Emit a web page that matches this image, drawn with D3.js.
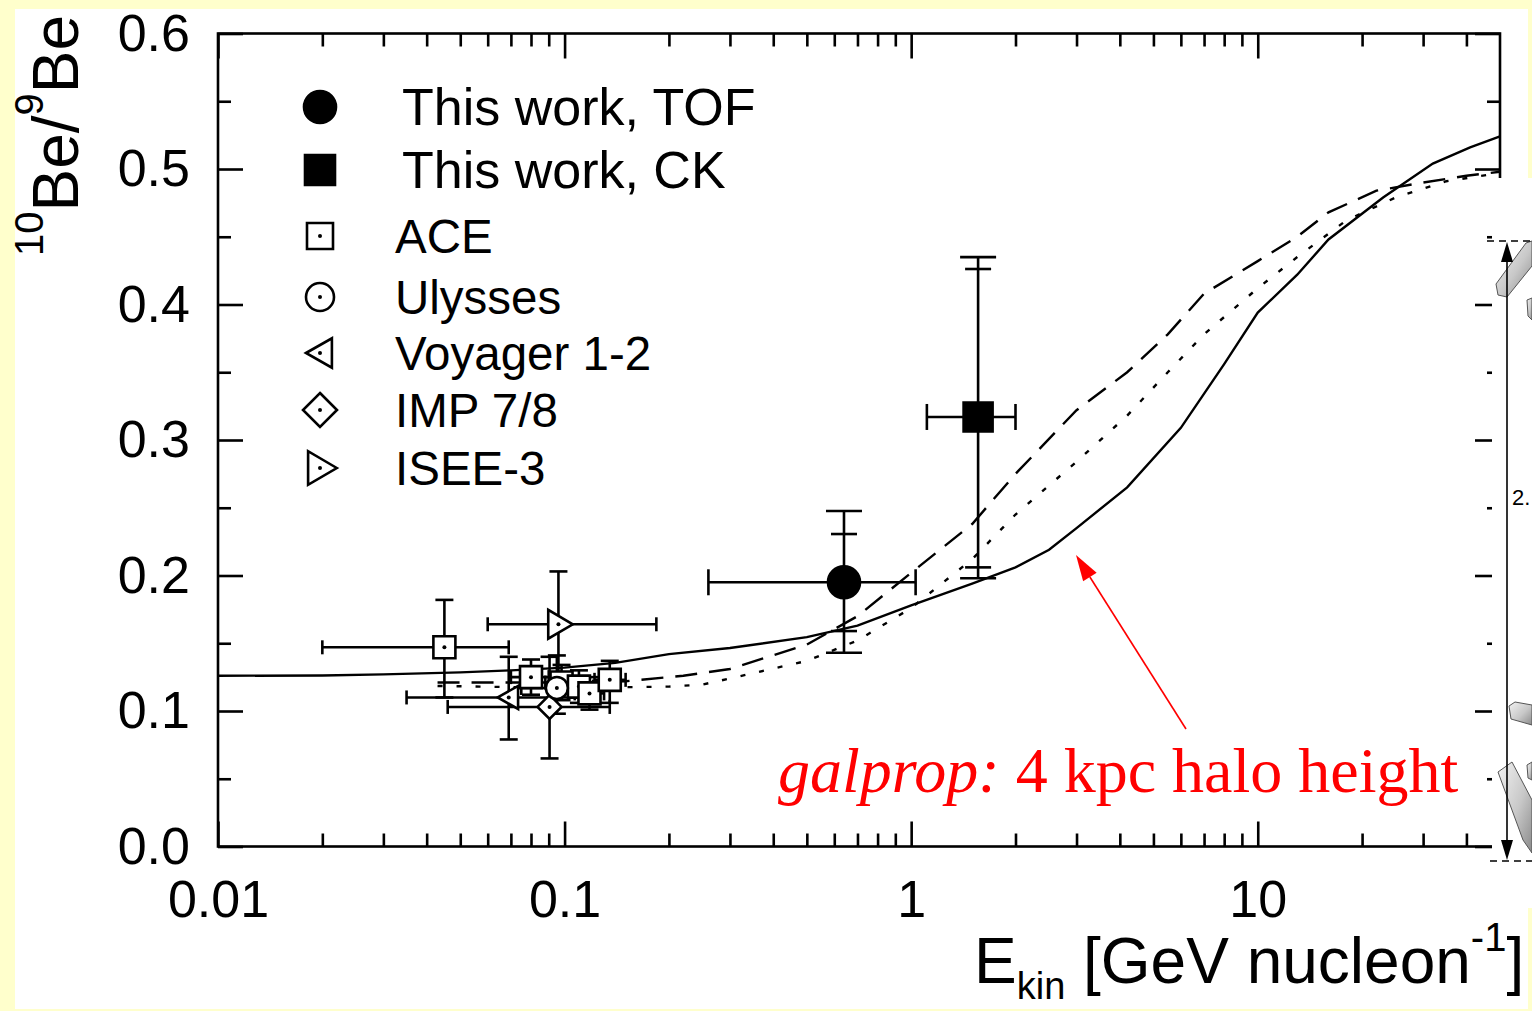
<!DOCTYPE html>
<html>
<head>
<meta charset="utf-8">
<script src="https://cdn.jsdelivr.net/npm/d3@7"></script>
<style>
  html, body { margin: 0; padding: 0; background: #ffffcc; }
  svg { display: block; }
</style>
</head>
<body>
<svg id="chart" width="1532" height="1011"></svg>
<script>
// ---------- axis ticks ----------
const xMajorTicks = [0.01, 0.1, 1, 10];
const xMajorLabels = ["0.01", "0.1", "1", "10"];
const xMinorTicks = [0.02, 0.03, 0.04, 0.05, 0.06, 0.07, 0.08, 0.09,
                     0.2, 0.3, 0.4, 0.5, 0.6, 0.7, 0.8, 0.9,
                     2, 3, 4, 5, 6, 7, 8, 9, 20, 30, 40];
const yMajorTicks = [0, 0.1, 0.2, 0.3, 0.4, 0.5, 0.6];
const yMinorTicks = [0.05, 0.15, 0.25, 0.35, 0.45, 0.55];

// ---------- galprop model curves [E, ratio] ----------
const modelSolid = [[0.01,0.126],[0.02,0.1262],[0.03,0.127],[0.05,0.1285],[0.07,0.130],
  [0.1,0.132],[0.14,0.1355],[0.2,0.142],[0.3,0.1465],[0.5,0.1545],[0.7,0.163],[1.0,0.178],
  [1.5,0.194],[2.0,0.206],[2.5,0.219],[3.0,0.235],[4.2,0.265],[6,0.309],[8,0.356],[10,0.394],
  [13,0.422],[16,0.448],[23,0.479],[32,0.504],[41,0.516],[50,0.524]];
const modelDashed = [[0.043,0.121],[0.1,0.121],[0.15,0.122],[0.22,0.126],[0.3,0.131],
  [0.5,0.149],[0.7,0.170],[1.0,0.202],[1.5,0.238],[2.0,0.275],[3.0,0.322],[4.2,0.350],
  [5.5,0.378],[7,0.408],[10,0.432],[13,0.45],[16,0.468],[22,0.484],[30,0.490],[40,0.495],[50,0.498]];
const modelDotted = [[0.043,0.1185],[0.1,0.117],[0.2,0.118],[0.25,0.1195],[0.3,0.124],
  [0.5,0.137],[0.7,0.152],[1.0,0.176],[1.5,0.212],[2.0,0.245],[3.0,0.284],[4.2,0.318],
  [5.5,0.35],[7,0.378],[10,0.412],[13,0.435],[18,0.462],[25,0.479],[35,0.491],[50,0.497]];

// ---------- measurements ----------
// this work: two vertical error ranges (inner / outer)
const tofData = [{E:0.64, R:0.195, Elo:0.26, Ehi:1.03, Rlo:0.159, Rhi:0.2306, Rlo2:0.143, Rhi2:0.2476}];
const ckData  = [{E:1.56, R:0.317, Elo:1.11, Ehi:2.0, Rlo:0.206, Rhi:0.4262, Rlo2:0.198, Rhi2:0.435}];
const aceData = [
  {E:0.045, R:0.147, Elo:0.020, Ehi:0.069, Rlo:0.110, Rhi:0.182},
  {E:0.080, R:0.125, Elo:0.070, Ehi:0.090, Rlo:0.112, Rhi:0.138},
  {E:0.098, R:0.121, Elo:0.088, Ehi:0.108, Rlo:0.108, Rhi:0.134},
  {E:0.110, R:0.118, Elo:0.100, Ehi:0.121, Rlo:0.106, Rhi:0.130},
  {E:0.118, R:0.113, Elo:0.107, Ehi:0.130, Rlo:0.101, Rhi:0.125},
  {E:0.135, R:0.123, Elo:0.122, Ehi:0.150, Rlo:0.106, Rhi:0.137}];
const ulyssesData = [{E:0.095, R:0.117, Elo:0.075, Ehi:0.115, Rlo:0.098, Rhi:0.141}];
const voyagerData = [{E:0.069, R:0.110, Elo:0.035, Ehi:0.12, Rlo:0.079, Rhi:0.14}];
const impData     = [{E:0.0905, R:0.103, Elo:0.046, Ehi:0.135, Rlo:0.065, Rhi:0.14}];
const iseeData    = [{E:0.096, R:0.164, Elo:0.060, Ehi:0.184, Rlo:0.125, Rhi:0.203}];

// ---------- legend ----------
const legendLabels = ["This work, TOF", "This work, CK", "ACE", "Ulysses", "Voyager 1-2", "IMP 7/8", "ISEE-3"];
const legendShapes = ["circleFilled", "squareFilled", "square", "circle", "triLeft", "diamond", "triRight"];

// ---------- setup ----------
const svg = d3.select("#chart");
const W = 1532, H = 1011;
const plot = {left: 218, right: 1500, top: 33.5, bottom: 846.5};

const x = d3.scaleLog().domain([0.01, 50]).range([plot.left, plot.right]);
const y = d3.scaleLinear().domain([0, 0.6]).range([plot.bottom, plot.top]);

svg.append("rect").attr("width", W).attr("height", H).attr("fill", "#ffffcc");
svg.append("rect").attr("x", 15).attr("y", 9).attr("width", 1513).attr("height", 1000).attr("fill", "#ffffff");

const FONT = "'Liberation Sans', Arial, Helvetica, sans-serif";
const SW = 2.6;

// ---------- axes ----------
function styleAxis(g) {
  g.select(".domain").remove();
  g.selectAll(".tick line").attr("stroke", "#000").attr("stroke-width", SW);
  g.selectAll("text").attr("font-family", FONT).attr("font-size", 52).attr("fill", "#000");
}
svg.append("g").attr("transform", `translate(0,${plot.bottom})`)
  .call(d3.axisBottom(x).tickValues(xMajorTicks).tickFormat((d, i) => xMajorLabels[i])
        .tickSizeInner(-25).tickSizeOuter(0).tickPadding(34))
  .call(styleAxis);
svg.append("g").attr("transform", `translate(0,${plot.bottom})`)
  .call(d3.axisBottom(x).tickValues(xMinorTicks).tickFormat("").tickSizeInner(-13).tickSizeOuter(0))
  .call(styleAxis);
svg.append("g").attr("transform", `translate(0,${plot.top})`)
  .call(d3.axisTop(x).tickValues(xMajorTicks).tickFormat("").tickSizeInner(-25).tickSizeOuter(0))
  .call(styleAxis);
svg.append("g").attr("transform", `translate(0,${plot.top})`)
  .call(d3.axisTop(x).tickValues(xMinorTicks).tickFormat("").tickSizeInner(-13).tickSizeOuter(0))
  .call(styleAxis);
svg.append("g").attr("transform", `translate(${plot.left},0)`)
  .call(d3.axisLeft(y).tickValues(yMajorTicks).tickFormat(d3.format(".1f"))
        .tickSizeInner(-25).tickSizeOuter(0).tickPadding(28))
  .call(styleAxis);
svg.append("g").attr("transform", `translate(${plot.left},0)`)
  .call(d3.axisLeft(y).tickValues(yMinorTicks).tickFormat("").tickSizeInner(-13).tickSizeOuter(0))
  .call(styleAxis);
svg.append("g").attr("transform", `translate(${plot.right},0)`)
  .call(d3.axisRight(y).tickValues(yMajorTicks).tickFormat("").tickSizeInner(-25).tickSizeOuter(0))
  .call(styleAxis);
svg.append("g").attr("transform", `translate(${plot.right},0)`)
  .call(d3.axisRight(y).tickValues(yMinorTicks).tickFormat("").tickSizeInner(-13).tickSizeOuter(0))
  .call(styleAxis);

svg.append("rect")
  .attr("x", plot.left).attr("y", plot.top)
  .attr("width", plot.right - plot.left).attr("height", plot.bottom - plot.top)
  .attr("fill", "none").attr("stroke", "#000").attr("stroke-width", SW);

// ---------- axis titles ----------
const yTitle = svg.append("text")
  .attr("transform", "translate(78,256) rotate(-90)")
  .attr("font-family", FONT).attr("font-size", 64).attr("fill", "#000");
yTitle.append("tspan").attr("font-size", 40).attr("dy", -35).text("10");
yTitle.append("tspan").attr("dy", 35).text("Be/");
yTitle.append("tspan").attr("font-size", 40).attr("dy", -35).text("9");
yTitle.append("tspan").attr("dy", 35).text("Be");

const xTitle = svg.append("text")
  .attr("x", 974).attr("y", 983)
  .attr("font-family", FONT).attr("font-size", 64).attr("fill", "#000");
xTitle.append("tspan").text("E");
xTitle.append("tspan").attr("font-size", 38).attr("dy", 16).text("kin");
xTitle.append("tspan").attr("dy", -16).text(" [GeV nucleon");
xTitle.append("tspan").attr("font-size", 40).attr("dy", -32).text("-1");
xTitle.append("tspan").attr("dy", 32).text("]");

// ---------- model curves ----------
const line = d3.line().x(d => x(d[0])).y(d => y(d[1])).curve(d3.curveLinear);
const curves = svg.append("g").attr("fill", "none").attr("stroke", "#000").attr("stroke-width", 2.4);
curves.append("path").datum(modelSolid).attr("d", line);
curves.append("path").datum(modelDashed).attr("d", line).attr("stroke-dasharray", "22 12");
curves.append("path").datum(modelDotted).attr("d", line)
  .attr("stroke-dasharray", "5 14");

// ---------- marker shapes ----------
function shapePath(type, s) {
  // s = half-size
  switch (type) {
    case "circle": case "circleFilled":
      return `M${-s},0A${s},${s} 0 1,0 ${s},0A${s},${s} 0 1,0 ${-s},0Z`;
    case "square": case "squareFilled":
      return `M${-s},${-s}H${s}V${s}H${-s}Z`;
    case "diamond":
      return `M0,${-s}L${s},0L0,${s}L${-s},0Z`;
    case "triLeft":
      return `M${-s},0L${s*0.85},${-s*1.05}L${s*0.85},${s*1.05}Z`;
    case "triRight":
      return `M${s*1.2},0L${-s*0.85},${-s*1.2}L${-s*0.85},${s*1.2}Z`;
  }
}
function drawMarker(g, type, cx, cy, s) {
  const filled = type.endsWith("Filled");
  g.append("path").attr("transform", `translate(${cx},${cy})`)
    .attr("d", shapePath(type, s))
    .attr("fill", filled ? "#000" : "#fff")
    .attr("stroke", "#000").attr("stroke-width", SW).attr("stroke-linejoin", "miter");
  if (!filled) {
    g.append("circle").attr("cx", cx).attr("cy", cy).attr("r", 2).attr("fill", "#000");
  }
}

// ---------- error bars ----------
function drawErrors(g, d, capW, capH, capW2) {
  const cx = x(d.E), cy = y(d.R);
  const e = g.append("g").attr("stroke", "#000").attr("stroke-width", SW);
  e.append("line").attr("x1", x(d.Elo)).attr("x2", x(d.Ehi)).attr("y1", cy).attr("y2", cy);
  e.append("line").attr("x1", x(d.Elo)).attr("x2", x(d.Elo)).attr("y1", cy - capH).attr("y2", cy + capH);
  e.append("line").attr("x1", x(d.Ehi)).attr("x2", x(d.Ehi)).attr("y1", cy - capH).attr("y2", cy + capH);
  const lo = d.Rlo2 !== undefined ? d.Rlo2 : d.Rlo;
  const hi = d.Rhi2 !== undefined ? d.Rhi2 : d.Rhi;
  e.append("line").attr("x1", cx).attr("x2", cx).attr("y1", y(lo)).attr("y2", y(hi));
  [d.Rlo, d.Rhi].forEach(v => e.append("line")
    .attr("x1", cx - capW).attr("x2", cx + capW).attr("y1", y(v)).attr("y2", y(v)));
  if (d.Rlo2 !== undefined) {
    [d.Rlo2, d.Rhi2].forEach(v => e.append("line")
      .attr("x1", cx - capW2).attr("x2", cx + capW2).attr("y1", y(v)).attr("y2", y(v)));
  }
}

const pts = svg.append("g");
const smallSets = [
  [aceData, "square", 11], [voyagerData, "triLeft", 11], [impData, "diamond", 12],
  [ulyssesData, "circle", 11], [iseeData, "triRight", 12]];
smallSets.forEach(([data]) => data.forEach(d => drawErrors(pts, d, 9, 7)));
smallSets.forEach(([data, type, s]) => data.forEach(d => drawMarker(pts, type, x(d.E), y(d.R), s)));

tofData.forEach(d => drawErrors(pts, d, 13, 13, 18));
tofData.forEach(d => drawMarker(pts, "circleFilled", x(d.E), y(d.R), 16));
ckData.forEach(d => drawErrors(pts, d, 13, 13, 18));
ckData.forEach(d => drawMarker(pts, "squareFilled", x(d.E), y(d.R), 14.5));

// ---------- legend ----------
const legendY = [107, 170, 236, 297, 353, 410, 468];
const legendTextX = [402, 402, 395, 395, 395, 395, 395];
const legendFont = [52, 52, 47.5, 47.5, 47.5, 47.5, 47.5];
const legendSize = [16, 15, 13, 14, 14, 17, 14];
const leg = svg.append("g");
legendLabels.forEach((label, i) => {
  drawMarker(leg, legendShapes[i], 320, legendY[i], legendSize[i]);
  leg.append("text").attr("x", legendTextX[i]).attr("y", legendY[i]).attr("dy", "0.35em")
    .attr("font-family", FONT).attr("font-size", legendFont[i]).attr("fill", "#000").text(label);
});

// ---------- annotation ----------
const note = svg.append("text").attr("x", 778).attr("y", 792)
  .attr("font-family", "'Liberation Serif', 'Times New Roman', serif")
  .attr("font-size", 64).attr("fill", "#ff0000");
note.append("tspan").attr("font-style", "italic").text("galprop:");
note.append("tspan").text(" 4 kpc halo height");

const ax0 = 1186, ay0 = 729, ax1 = 1076, ay1 = 555;
const ang = Math.atan2(ay1 - ay0, ax1 - ax0);
const hl = 26, hw = 8;
const bx = ax1 - hl * Math.cos(ang), by = ay1 - hl * Math.sin(ang);
svg.append("line").attr("x1", ax0).attr("y1", ay0).attr("x2", bx).attr("y2", by)
  .attr("stroke", "#ff0000").attr("stroke-width", 1.6);
svg.append("path")
  .attr("d", `M${ax1},${ay1}L${bx - hw*Math.sin(ang)},${by + hw*Math.cos(ang)}L${bx + hw*Math.sin(ang)},${by - hw*Math.cos(ang)}Z`)
  .attr("fill", "#ff0000");

// ---------- inset at right edge ----------
const defs = svg.append("defs");
const grad = defs.append("linearGradient").attr("id", "metal")
  .attr("x1", "0%").attr("y1", "0%").attr("x2", "100%").attr("y2", "100%");
grad.append("stop").attr("offset", "0%").attr("stop-color", "#f2f2f2");
grad.append("stop").attr("offset", "55%").attr("stop-color", "#c8c8c8");
grad.append("stop").attr("offset", "100%").attr("stop-color", "#8a8a8a");

const inset = svg.append("g");
inset.append("rect").attr("x", 1492).attr("y", 178).attr("width", 40).attr("height", 730).attr("fill", "#fff");
const shapes = [
  "M1496,284L1526,243L1532,241L1532,266L1507,297L1498,295Z",
  "M1527,300L1532,298L1532,320L1528,316Z",
  "M1509,706L1515,702L1532,705L1532,725L1511,719Z",
  "M1498,772L1512,762L1532,800L1532,853L1523,840Z",
  "M1527,765L1532,762L1532,780L1528,778Z"];
shapes.forEach(p => inset.append("path").attr("d", p).attr("fill", "url(#metal)")
  .attr("stroke", "#555").attr("stroke-width", 1));
inset.append("line").attr("x1", 1487).attr("x2", 1532).attr("y1", 241).attr("y2", 241)
  .attr("stroke", "#000").attr("stroke-width", 1.5).attr("stroke-dasharray", "7 5");
inset.append("line").attr("x1", 1490).attr("x2", 1532).attr("y1", 861).attr("y2", 861)
  .attr("stroke", "#000").attr("stroke-width", 1.5).attr("stroke-dasharray", "7 5");
inset.append("line").attr("x1", 1507).attr("x2", 1507).attr("y1", 255).attr("y2", 848)
  .attr("stroke", "#000").attr("stroke-width", 1.6);
inset.append("path").attr("d", "M1507,242L1513,262L1501,262Z").attr("fill", "#000");
inset.append("path").attr("d", "M1507,860L1513,840L1501,840Z").attr("fill", "#000");
inset.append("text").attr("x", 1512).attr("y", 505)
  .attr("font-family", FONT).attr("font-size", 22).attr("fill", "#000").text("2.");
</script>
</body>
</html>
